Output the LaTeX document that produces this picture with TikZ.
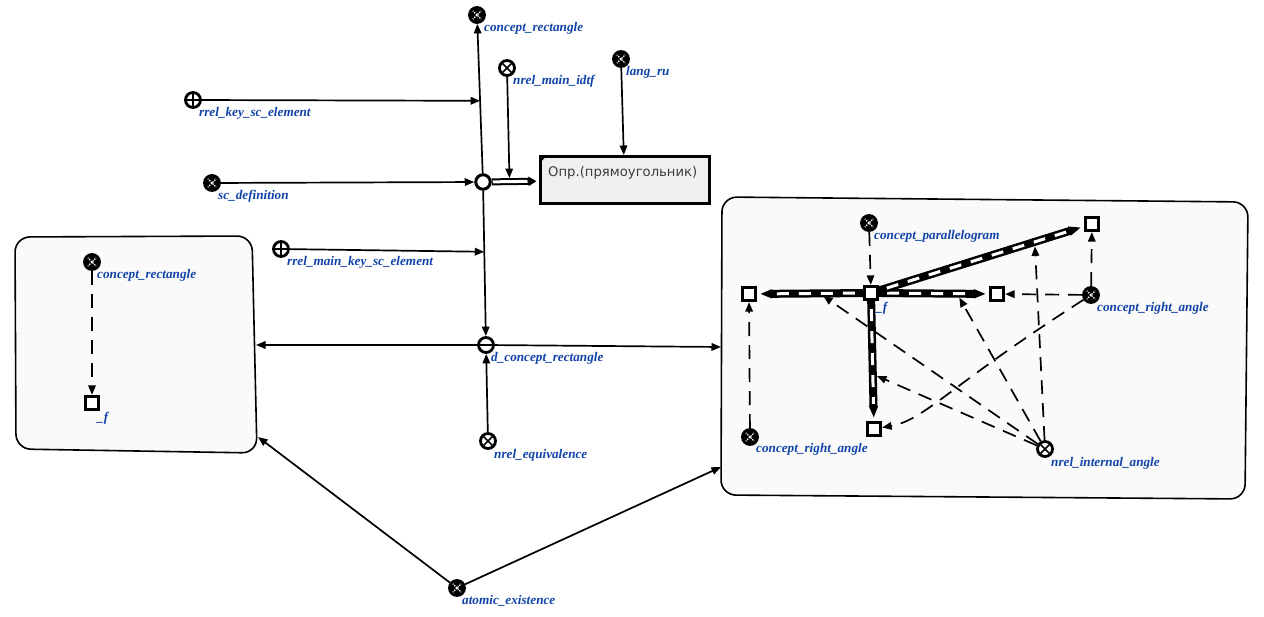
\documentclass[tikz,border=0pt]{standalone}
\usepackage{fontspec}
\setmainfont{Liberation Serif}
\newfontfamily\linkfont{DejaVu Sans}
\usetikzlibrary{arrows.meta}
\definecolor{lblue}{RGB}{17,68,168}
\definecolor{boxfill}{RGB}{250,250,250}
\definecolor{linkfill}{RGB}{240,239,238}
\definecolor{linktext}{RGB}{60,60,60}

\tikzset{
  lbl/.style={text=lblue, font=\fontsize{13.2}{15}\selectfont\bfseries\itshape,
              anchor=base west, inner sep=0pt},
  nodebase/.style={circle, minimum size=15pt, inner sep=0pt, line width=2.8pt, draw=black},
  classnode/.style={nodebase, fill=black, path picture={
     \draw[white, line width=1.1pt, dash pattern=on 1.4pt off 1pt]
       ([shift={(-4.5pt,-4.5pt)}]path picture bounding box.center) --
       ([shift={(4.5pt,4.5pt)}]path picture bounding box.center)
       ([shift={(-4.5pt,4.5pt)}]path picture bounding box.center) --
       ([shift={(4.5pt,-4.5pt)}]path picture bounding box.center);}},
  relnode/.style={nodebase, fill=white, path picture={
     \draw[black, line width=1.7pt]
       ([shift={(-4.5pt,-4.5pt)}]path picture bounding box.center) --
       ([shift={(4.5pt,4.5pt)}]path picture bounding box.center)
       ([shift={(-4.5pt,4.5pt)}]path picture bounding box.center) --
       ([shift={(4.5pt,-4.5pt)}]path picture bounding box.center);}},
  rolenode/.style={nodebase, fill=white, path picture={
     \draw[black, line width=1.7pt]
       ([shift={(-6pt,0pt)}]path picture bounding box.center) --
       ([shift={(6pt,0pt)}]path picture bounding box.center)
       ([shift={(0pt,-6pt)}]path picture bounding box.center) --
       ([shift={(0pt,6pt)}]path picture bounding box.center);}},
  pairnode/.style={nodebase, fill=white, minimum size=14.5pt, line width=3pt},
  dnode/.style={nodebase, fill=white, path picture={
     \draw[black, line width=1.8pt]
       ([shift={(-6pt,0pt)}]path picture bounding box.center) --
       ([shift={(6pt,0pt)}]path picture bounding box.center);}},
  sqnode/.style={rectangle, minimum size=13pt, inner sep=0pt, line width=3.2pt,
                 draw=black, fill=white},
  linknode/.style={rectangle, minimum width=169pt, minimum height=47pt, inner sep=0pt,
                   line width=3pt, draw=black, fill=linkfill},
  linklbl/.style={text=linktext, font=\linkfont\fontsize{13.2}{15}\selectfont,
                  anchor=base west, inner sep=0pt},
  contour/.style={draw=black, line width=1.6pt, fill=boxfill, rounded corners=15pt},
  arc/.style={line width=1.7pt, -{Triangle[length=9.5pt,width=7.5pt]}},
  darc/.style={arc, dash pattern=on 14pt off 9pt},
  band/.style={line width=8pt, shorten >=3pt, -{Triangle[length=12pt,width=8.5pt]}},
  bandw/.style={white, line width=3pt, dash pattern=on 12pt off 10pt,
                shorten <=8pt, shorten >=17pt},
}

\begin{document}
\begin{tikzpicture}[x=1pt,y=-1pt]
\fill[white] (0,0) rectangle (1264,617);
\useasboundingbox (0,0) rectangle (1264,617);

% contours
\draw[contour] (15,237) -- (252,236) -- (257,453) -- (16,449) -- cycle;
\draw[contour] (722,197) -- (1248,202) -- (1245,499) -- (721,495) -- cycle;
\coordinate (lbE) at (256,345);
\coordinate (lbSE) at (258,437);
\coordinate (rbW) at (721,347);
\coordinate (rbSW) at (721,467);

% main structure nodes
\node[classnode] (crect) at (477,15) {};
\node[relnode]   (nmi) at (507,68) {};
\node[classnode] (langru) at (621,59) {};
\node[rolenode]  (rkey) at (193,100) {};
\node[classnode] (scdef) at (212,183) {};
\node[rolenode]  (rmkey) at (281,249) {};
\node[pairnode]  (pair) at (483,182) {};
\node[dnode]     (dcr) at (486,345) {};
\node[relnode]   (nequiv) at (488,441) {};
\node[classnode] (atom) at (457,588) {};
\node[linknode]  (link) at (624.5,180) {};
\fill ([shift={(1.5,1.5)}]link.north west) -- ++(6,0) -- ++(-6,6) -- cycle;
\node[linklbl] (linktxt) at ([shift={(9.5,22)}]link.north west) {Опр.(прямоугольник)};

% left contour nodes
\node[classnode] (crl) at (92,262) {};
\node[sqnode]    (fl) at (92,403) {};

% right contour nodes
\node[classnode] (cpar) at (869,223) {};
\node[sqnode]    (f) at (871,293) {};
\node[sqnode]    (sql) at (749,294) {};
\node[sqnode]    (sqr) at (997,294) {};
\node[sqnode]    (sqtr) at (1092,224) {};
\node[sqnode]    (sqb) at (874,429) {};
\node[classnode] (crar) at (1091,295) {};
\node[classnode] (cral) at (750,437) {};
\node[relnode]   (nia) at (1045,449) {};

% main arcs
\draw[arc] (pair) -- (crect);
\draw[arc] (pair) -- (dcr);
\path (pair) -- (crect) coordinate[pos=0.485] (e1);
\path (pair) -- (dcr) coordinate[pos=0.42] (e2);
\draw[arc] (rkey) -- (e1);
\draw[arc] (rmkey) -- (e2);
\draw[arc] (scdef) -- (pair);
\draw[line width=7pt, shorten >=2pt, -{Triangle[length=8pt,width=9pt]}] (pair) -- (link);
\draw[white, line width=3pt, shorten >=11pt, shorten <=1pt] (pair) -- (link);
\path (pair) -- (link) coordinate[pos=0.38] (e3);
\draw[arc, shorten >=3.5pt] (nmi) -- (e3);
\draw[arc] (langru) -- (link);
\draw[arc] (nequiv) -- (dcr);
\draw[arc] (dcr) -- (lbE);
\draw[arc] (dcr) -- (rbW);
\draw[arc] (atom) -- (lbSE);
\draw[arc] (atom) -- (rbSW);

% left contour arc
\draw[darc] (crl) -- (fl);

% right contour arcs
\draw[darc] (cpar) -- (f);
\foreach \t in {sql,sqr,sqtr,sqb}{
  \draw[band] (f) -- (\t);
  \draw[bandw] (f) -- (\t);
}
\path (f) -- (sql) coordinate[pos=0.41] (b1);
\path (f) -- (sqr) coordinate[pos=0.71] (b2);
\path (f) -- (sqtr) coordinate[pos=0.76] (b3);
\path (f) -- (sqb) coordinate[pos=0.61] (b4);
\draw[darc] (cral) -- (sql);
\draw[darc] (crar) -- (sqr);
\draw[darc] (crar) -- (sqtr);
\draw[darc] (crar) .. controls (950,385) and (925,420) .. (sqb);
\draw[darc, shorten >=4.5pt] (nia) -- (b1);
\draw[darc, shorten >=4.5pt] (nia) -- (b2);
\draw[darc, shorten >=4.5pt] (nia) -- (b3);
\draw[darc, shorten >=4.5pt] (nia) -- (b4);

% source square drawn again over the band ends
\node[sqnode] at (f) {};

% labels
\node[lbl] (crectL) at (484,32) {concept\_rectangle};
\node[lbl] (nmiL) at (513,85) {nrel\_main\_idtf};
\node[lbl] (langruL) at (626,76) {lang\_ru};
\node[lbl] (rkeyL) at (199,117) {rrel\_key\_sc\_element};
\node[lbl] (scdefL) at (218,200) {sc\_definition};
\node[lbl] (rmkeyL) at (287,266) {rrel\_main\_key\_sc\_element};
\node[lbl] (dcrL) at (491,362) {d\_concept\_rectangle};
\node[lbl] (nequivL) at (494,458) {nrel\_equivalence};
\node[lbl] (atomL) at (462,604) {atomic\_existence};
\node[lbl] (crlL) at (97,279) {concept\_rectangle};
\node[lbl] (flL) at (97,422) {\_f};
\node[lbl] (cparL) at (874,240) {concept\_parallelogram};
\node[lbl] (fL) at (876,312) {\_f};
\node[lbl] (crarL) at (1097,312) {concept\_right\_angle};
\node[lbl] (niaL) at (1051,467) {nrel\_internal\_angle};
\node[lbl] (cralL) at (756,453) {concept\_right\_angle};
\end{tikzpicture}
\end{document}
